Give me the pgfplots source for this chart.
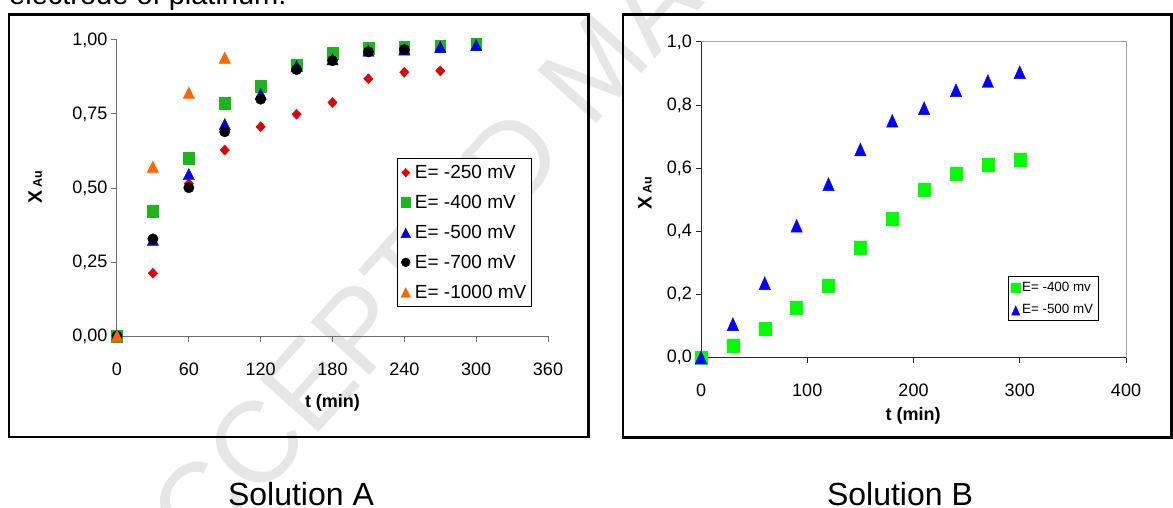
\documentclass[border=0pt]{standalone}
\usepackage{fontspec}
\setmainfont{Liberation Sans}
\usepackage{pgfplots}
\usepackage{pgfplotstable}
\pgfplotsset{compat=1.18}

\definecolor{redA}{RGB}{222,0,0}
\definecolor{greenA}{RGB}{30,180,30}
\definecolor{blueA}{RGB}{0,0,220}
\definecolor{orangeA}{RGB}{255,102,0}
\definecolor{greenB}{RGB}{0,255,0}
\definecolor{blueB}{RGB}{0,0,255}
\definecolor{axisgray}{RGB}{110,110,110}
\definecolor{axisdark}{RGB}{40,40,40}
\definecolor{boxgray}{RGB}{165,165,165}
\definecolor{wmgray}{RGB}{230,230,230}

\newcommand{\fs}[1]{\fontsize{#1}{#1}\selectfont}

% single legend marks, a little smaller than the plotted ones
\pgfplotsset{
  onemarkA/.style={legend image code/.code={%
      \path (0pt,0pt) (12pt,0pt);
      \draw[##1,/tikz/every mark/.append style={scale=0.85}] plot coordinates {(5pt,0pt)};}},
  onemarkB/.style={legend image code/.code={%
      \path (0pt,0pt) (8pt,0pt);
      \draw[##1,/tikz/every mark/.append style={scale=0.72}] plot coordinates {(4pt,0pt)};}},
}

% Solution A: conversion of gold versus time at several potentials
\pgfplotstableread{
t x
0 0
30 0.212
60 0.515
90 0.628
120 0.707
150 0.749
180 0.789
210 0.869
240 0.891
270 0.896
}\EaA
\pgfplotstableread{
t x
0 0
30 0.423
60 0.600
90 0.786
120 0.845
150 0.916
180 0.955
210 0.971
240 0.976
270 0.980
300 0.985
}\EbA
\pgfplotstableread{
t x
0 0
30 0.325
60 0.547
90 0.716
120 0.818
150 0.912
180 0.935
210 0.964
240 0.968
270 0.977
300 0.983
}\EcA
\pgfplotstableread{
t x
0 0
30 0.328
60 0.501
90 0.690
120 0.800
150 0.900
180 0.930
210 0.960
240 0.968
}\EdA
\pgfplotstableread{
t x
0 0
30 0.572
60 0.822
90 0.940
}\EeA

% Solution B
\pgfplotstableread{
t x
0 0
30 0.038
60 0.090
90 0.157
120 0.227
150 0.349
180 0.440
210 0.533
240 0.581
270 0.610
300 0.628
}\EbB
\pgfplotstableread{
t x
0 0
30 0.105
60 0.235
90 0.417
120 0.549
150 0.659
180 0.750
210 0.790
240 0.847
270 0.876
300 0.904
}\EcB

\begin{document}
\begin{tikzpicture}
\useasboundingbox (0pt,0pt) rectangle (1173pt,507pt);
\clip (0pt,0pt) rectangle (1173pt,507pt);

% watermark
\node[rotate=48, anchor=base west, text=wmgray, font=\fs{115}, inner sep=0pt]
  at (150pt,-113pt) {ACCEPTED MANUSCRIPT};

% running text above the figure
\node[anchor=base west, inner sep=0pt, font=\fs{29}] at (9pt,502pt) {electrode of platinum.};

% frames
\draw[line width=2.5pt] (9pt,492.5pt) rectangle (588.5pt,70pt);
\draw[line width=2.5pt] (623pt,492.5pt) rectangle (1171.5pt,69.5pt);

% captions
\node[anchor=base, inner sep=0pt, font=\fs{32}] at (301pt,1.5pt) {Solution A};
\node[anchor=base, inner sep=0pt, font=\fs{32}] at (900pt,1.5pt) {Solution B};

\begin{axis}[
  at={(117pt,171pt)}, anchor=south west,
  scale only axis, width=431pt, height=296pt,
  xmin=0, xmax=360, ymin=0, ymax=1,
  axis x line*=bottom, axis y line*=left,
  axis line style={-, draw=axisgray, line width=1pt},
  xtick={0,60,120,180,240,300,360}, ytick={0,0.25,0.5,0.75,1},
  xtick pos=bottom, ytick pos=left,
  tick align=outside, major tick length=6pt,
  tick style={draw=axisgray, line width=1pt},
  clip=false,
  ticklabel style={font=\fs{18}},
  xticklabel style={yshift=-17pt},
  /pgf/number format/assume math mode=true,
  yticklabel style={/pgf/number format/.cd, use comma, fixed, fixed zerofill, precision=2},
  xlabel={t (min)},
  xlabel style={font=\fs{18}\bfseries, at={(axis description cs:0.5,-0.226)}, anchor=center},
  ylabel={X\,{\fs{12.5}\bfseries Au}},
  ylabel style={font=\fs{19.5}\bfseries, at={(axis description cs:-0.19,0.503)}, anchor=center, rotate=0},
  legend cell align=left,
  legend style={at={(axis description cs:0.65,0.098)}, anchor=south west,
    draw=black, line width=0.8pt, font=\fs{19},
    inner xsep=3pt, inner ysep=5pt, row sep=11.1pt},
]
\addplot[only marks, mark=diamond*, mark size=5pt, draw=redA, fill=redA, line width=0.4pt,
  mark options={xscale=1.25}, onemarkA] table[x=t,y=x] {\EaA};
\addlegendentry{E= -250 mV}
\addplot[only marks, mark=square*, mark size=5.3pt, draw=greenA, fill=greenA, line width=0.4pt,
  mark options={yscale=1.12}, onemarkA] table[x=t,y=x] {\EbA};
\addlegendentry{E= -400 mV}
\addplot[only marks, mark=triangle*, mark size=6.5pt, draw=blueA, fill=blueA, line width=0.4pt,
  mark options={yshift=-1.9pt, yscale=1.15}, onemarkA] table[x=t,y=x] {\EcA};
\addlegendentry{E= -500 mV}
\addplot[only marks, mark=*, mark size=5.2pt, draw=black, fill=black, line width=0.4pt,
  onemarkA] table[x=t,y=x] {\EdA};
\addlegendentry{E= -700 mV}
\addplot[only marks, mark=triangle*, mark size=6.5pt, draw=orangeA, fill=orangeA, line width=0.4pt,
  mark options={yshift=-1.9pt, yscale=1.15}, onemarkA] table[x=t,y=x] {\EeA};
\addlegendentry{E= -1000 mV}
\end{axis}

\begin{axis}[
  at={(701pt,149.7pt)}, anchor=south west,
  scale only axis, width=425pt, height=315.3pt,
  xmin=0, xmax=400, ymin=0, ymax=1,
  axis line style={draw=boxgray, line width=1pt},
  xtick={0,100,200,300,400}, ytick={0,0.2,0.4,0.6,0.8,1},
  xtick pos=bottom, ytick pos=left,
  tick align=outside, major tick length=5.5pt,
  tick style={draw=axisdark, line width=1pt},
  clip=false,
  ticklabel style={font=\fs{18}},
  xticklabel style={yshift=-18pt},
  /pgf/number format/assume math mode=true,
  yticklabel style={/pgf/number format/.cd, use comma, fixed, fixed zerofill, precision=1},
  xlabel={t (min)},
  xlabel style={font=\fs{18}\bfseries, at={(axis description cs:0.499,-0.186)}, anchor=center},
  ylabel={X\,{\fs{12.5}\bfseries Au}},
  ylabel style={font=\fs{19.5}\bfseries, at={(axis description cs:-0.132,0.521)}, anchor=center, rotate=0},
  legend cell align=left,
  legend style={at={(axis description cs:0.7224,0.115)}, anchor=south west,
    draw=black, line width=0.8pt, font=\fs{13.4},
    inner xsep=3pt, inner ysep=3.3pt, row sep=7.5pt},
]
\draw[axisdark, line width=1pt] (axis cs:0,1) -- (axis cs:0,0) -- (axis cs:400,0);
\addplot[only marks, mark=square*, mark size=6pt, draw=greenB, fill=greenB, line width=0.4pt,
  mark options={yscale=1.08}, onemarkB] table[x=t,y=x] {\EbB};
\addlegendentry{E= -400 mv}
\addplot[only marks, mark=triangle*, mark size=6.6pt, draw=blueB, fill=blueB, line width=0.4pt,
  mark options={yshift=-2.1pt, yscale=1.3}, onemarkB] table[x=t,y=x] {\EcB};
\addlegendentry{E= -500 mV}
\end{axis}
\end{tikzpicture}
\end{document}
